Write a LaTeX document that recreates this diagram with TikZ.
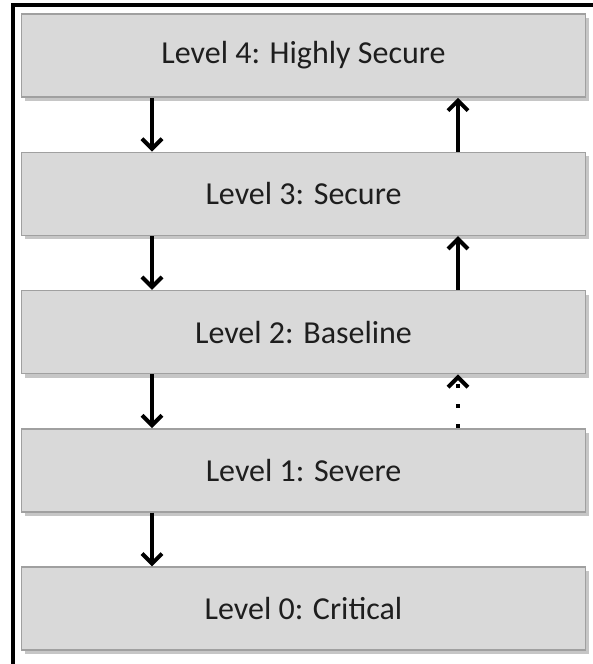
\documentclass[tikz,border=0pt]{standalone}
\usepackage{fontspec}
\setmainfont{Carlito}
\usetikzlibrary{positioning, arrows.meta, shadows}
\definecolor{boxfill}{HTML}{D9D9D9}
\definecolor{boxline}{HTML}{A0A0A0}
\definecolor{txt}{HTML}{1E1E1E}

\begin{document}
\begin{tikzpicture}[x=1pt, y=-1pt,
  level/.style={draw=boxline, line width=1.6pt, fill=boxfill, minimum width=564pt,
    minimum height=83pt, inner sep=0pt, text=txt, font=\fontsize{32}{38}\selectfont,
    drop shadow={shadow xshift=3pt, shadow yshift=-4pt, opacity=0.45}},
  arr/.style={line width=4pt, -{Straight Barb[length=10pt, width=20pt, line width=4pt]}}]
\useasboundingbox (0,0) rectangle (593,664);
% frame
\draw[line width=4pt] (12.5,664) -- (12.5,5) -- (593,5);
% levels
\node[level] (L4) at (303.5, 55.5) {Level 4: Highly Secure};
\node[level] (L3) at (303.5, 193.8) {Level 3: Secure};
\node[level] (L2) at (303.5, 332.1) {Level 2: Baseline};
\node[level] (L1) at (303.5, 470.4) {Level 1: Severe};
\node[level] (L0) at (303.5, 608.7) {Level 0: Critical};
\coordinate (dn) at (152, 0);
\coordinate (up) at (458, 0);
% down arrows
\draw[arr] (L4.south -| dn) -- (L3.north -| dn);
\draw[arr] (L3.south -| dn) -- (L2.north -| dn);
\draw[arr] (L2.south -| dn) -- (L1.north -| dn);
\draw[arr] (L1.south -| dn) -- (L0.north -| dn);
% up arrows
\draw[arr] (L3.north -| up) -- (L4.south -| up);
\draw[arr] (L2.north -| up) -- (L3.south -| up);
\draw[arr, dash pattern=on 4pt off 16pt] (L1.north -| up) -- (L2.south -| up);
\end{tikzpicture}
\end{document}
